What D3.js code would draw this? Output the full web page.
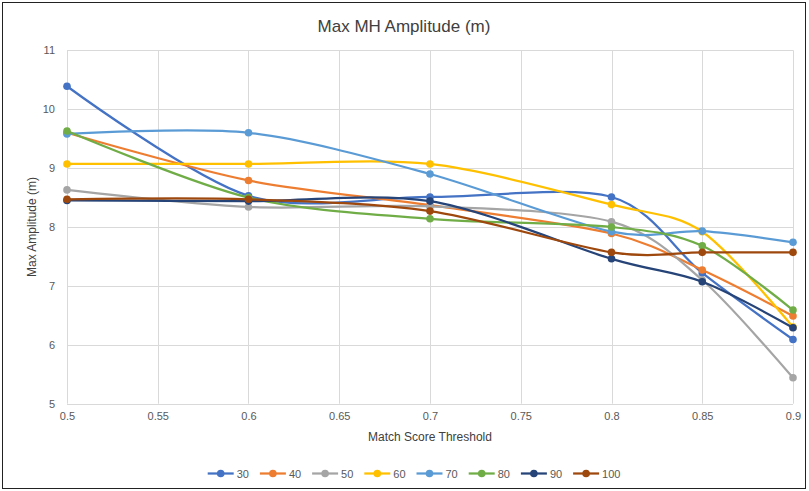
<!DOCTYPE html>
<html>
<head>
<meta charset="utf-8">
<script src="https://cdn.jsdelivr.net/npm/d3@7"></script>
<style>
  html, body { margin: 0; padding: 0; background: #fff; }
  svg { display: block; font-family: "Liberation Sans", Arial, sans-serif; }
</style>
</head>
<body>
<svg id="chart" width="809" height="491"></svg>
<script>
// Match score thresholds (x values)
const thresholds = [0.5, 0.6, 0.7, 0.8, 0.85, 0.9];
const xTicks = [0.5, 0.55, 0.6, 0.65, 0.7, 0.75, 0.8, 0.85, 0.9];
const yTicks = [5, 6, 7, 8, 9, 10, 11];

// Series names and values (max amplitude, m)
const seriesNames = ["30", "40", "50", "60", "70", "80", "90", "100"];
const s30  = [10.39, 8.53, 8.51, 8.51, 7.22, 6.09];
const s40  = [9.60, 8.79, 8.37, 7.89, 7.27, 6.49];
const s50  = [8.63, 8.34, 8.35, 8.09, 7.10, 5.44];
const s60  = [9.07, 9.07, 9.07, 8.38, 7.92, 6.30];
const s70  = [9.58, 9.60, 8.90, 7.92, 7.93, 7.74];
const s80  = [9.63, 8.50, 8.14, 8.00, 7.68, 6.59];
const s90  = [8.45, 8.44, 8.44, 7.46, 7.07, 6.29];
const s100 = [8.47, 8.47, 8.27, 7.57, 7.57, 7.57];
const seriesValues = [s30, s40, s50, s60, s70, s80, s90, s100];
const seriesColors = ["#4472C4", "#ED7D31", "#A5A5A5", "#FFC000", "#5B9BD5", "#70AD47", "#264478", "#9E480E"];

const svg = d3.select("#chart");

// outer chart frame
svg.append("rect")
  .attr("x", 2.5).attr("y", 2.5)
  .attr("width", 803).attr("height", 486)
  .attr("fill", "#fff").attr("stroke", "#222").attr("stroke-width", 1);

const x = d3.scaleLinear().domain([0.5, 0.9]).range([67, 793]);
const y = d3.scaleLinear().domain([5, 11]).range([403.7, 50.3]);

// gridlines
const grid = svg.append("g");
grid.selectAll("line.h").data(yTicks).join("line")
  .attr("x1", x(0.5)).attr("x2", x(0.9))
  .attr("y1", d => Math.round(y(d)) + 0.5).attr("y2", d => Math.round(y(d)) + 0.5)
  .attr("stroke", "#D9D9D9").attr("stroke-width", 1);
grid.selectAll("line.v").data(xTicks).join("line")
  .attr("y1", y(5)).attr("y2", y(11))
  .attr("x1", d => Math.round(x(d)) + 0.5).attr("x2", d => Math.round(x(d)) + 0.5)
  .attr("stroke", "#D9D9D9").attr("stroke-width", 1);

// axes (labels only, Excel style)
const xAxis = d3.axisBottom(x).tickValues(xTicks).tickSize(0).tickPadding(9)
  .tickFormat(d => String(+d.toFixed(2)));
svg.append("g").attr("transform", `translate(0,${y(5)})`).call(xAxis)
  .call(g => g.select(".domain").remove())
  .selectAll("text").attr("font-size", 11).attr("fill", "#595959")
  .attr("font-family", "Liberation Sans, Arial, sans-serif");

const yAxis = d3.axisLeft(y).tickValues(yTicks).tickSize(0).tickPadding(12)
  .tickFormat(d3.format("d"));
svg.append("g").attr("transform", `translate(${x(0.5)},0)`).call(yAxis)
  .call(g => g.select(".domain").remove())
  .selectAll("text").attr("font-size", 11).attr("fill", "#595959")
  .attr("font-family", "Liberation Sans, Arial, sans-serif");

// titles
svg.append("text").attr("x", 404).attr("y", 32).attr("text-anchor", "middle")
  .attr("font-size", 17).attr("fill", "#404040").text("Max MH Amplitude (m)");
svg.append("text").attr("x", 430).attr("y", 441).attr("text-anchor", "middle")
  .attr("font-size", 12).attr("fill", "#404040").text("Match Score Threshold");
svg.append("text").attr("transform", "translate(36,227) rotate(-90)")
  .attr("text-anchor", "middle")
  .attr("font-size", 12).attr("fill", "#404040").text("Max Amplitude (m)");

// series lines and markers
const line = d3.line()
  .x((d, i) => x(thresholds[i]))
  .y(d => y(d))
  .curve(d3.curveCardinal.tension(0.1));

const series = svg.append("g").selectAll("g").data(seriesValues).join("g");
series.append("path")
  .attr("d", d => line(d))
  .attr("fill", "none")
  .attr("stroke", (d, i) => seriesColors[i])
  .attr("stroke-width", 2.25)
  .attr("stroke-linejoin", "round").attr("stroke-linecap", "round");
series.each(function(vals, si) {
  d3.select(this).selectAll("circle").data(vals).join("circle")
    .attr("cx", (d, i) => x(thresholds[i]))
    .attr("cy", d => y(d))
    .attr("r", 3.8)
    .attr("fill", seriesColors[si]);
});

// legend
const legend = svg.append("g").selectAll("g").data(seriesNames).join("g")
  .attr("transform", (d, i) => `translate(${220.7 + i * 52.2},473.5)`);
legend.append("line").attr("x1", -13).attr("x2", 13)
  .attr("stroke", (d, i) => seriesColors[i]).attr("stroke-width", 2.25);
legend.append("circle").attr("r", 3.8).attr("fill", (d, i) => seriesColors[i]);
legend.append("text").attr("x", 16).attr("y", 4)
  .attr("font-size", 11).attr("fill", "#595959").text(d => d);
</script>
</body>
</html>
